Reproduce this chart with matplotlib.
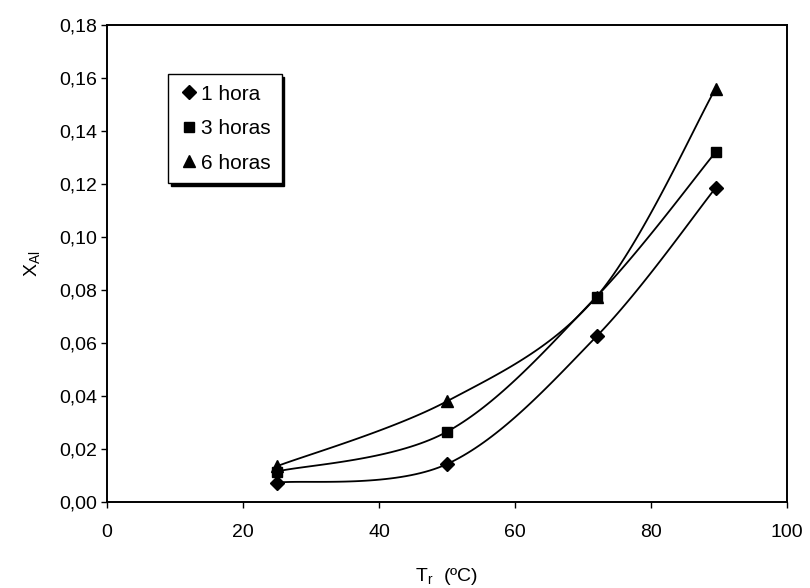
import numpy as np
import matplotlib
matplotlib.use("Agg")
import matplotlib.pyplot as plt
from matplotlib.lines import Line2D
from matplotlib.ticker import FuncFormatter

plt.rcParams['font.family'] = ['Liberation Sans', 'DejaVu Sans']

temps = [25, 50, 72, 89.5]
x_1h = [0.0073, 0.0143, 0.0625, 0.1185]
x_3h = [0.0115, 0.0265, 0.0775, 0.1320]
x_6h = [0.0135, 0.0380, 0.0775, 0.1560]
labels = ['1 hora', '3 horas', '6 horas']
markers = ['D', 's', '^']
msizes = [7, 7, 9]


def catmull_rom(x, y, n=40):
    x = np.asarray(x, float); y = np.asarray(y, float)
    px = np.concatenate([[x[0]], x, [x[-1]]])
    py = np.concatenate([[y[0]], y, [y[-1]]])
    xs, ys = [], []
    t = np.linspace(0, 1, n)
    for i in range(1, len(px) - 2):
        p0, p1, p2, p3 = (np.array([px[j], py[j]]) for j in (i - 1, i, i + 1, i + 2))
        b1 = p1 + (p2 - p0) / 6
        b2 = p2 - (p3 - p1) / 6
        pts = ((1 - t) ** 3)[:, None] * p1 + (3 * (1 - t) ** 2 * t)[:, None] * b1 + \
              (3 * (1 - t) * t ** 2)[:, None] * b2 + (t ** 3)[:, None] * p2
        xs.append(pts[:, 0]); ys.append(pts[:, 1])
    return np.concatenate(xs), np.concatenate(ys)


fig = plt.figure(figsize=(8.1, 5.88), dpi=100)
ax = fig.add_axes([0.132, 0.1463, 0.8396, 0.8112])

handles = []
for ys, lab, mk, ms in zip([x_1h, x_3h, x_6h], labels, markers, msizes):
    sx, sy = catmull_rom(temps, ys)
    ax.plot(sx, sy, color='black', lw=1.3)
    ax.plot(temps, ys, linestyle='none', marker=mk, ms=ms, color='black')
    handles.append(Line2D([], [], linestyle='none', marker=mk, ms=ms, color='black', label=lab))

ax.set_xlim(0, 100)
ax.set_ylim(0, 0.18)
ax.set_xticks(np.arange(0, 101, 20))
ax.set_yticks(np.arange(0, 0.181, 0.02))
ax.yaxis.set_major_formatter(FuncFormatter(lambda v, p: f"{v:.2f}".replace('.', ',')))
ax.tick_params(direction='out', length=4, width=1, labelsize=14, colors='black')
ax.tick_params(axis='x', pad=12)
ax.tick_params(axis='y', pad=3)
for s in ax.spines.values():
    s.set_linewidth(1.4)
    s.set_color('black')

ax.set_xlabel(r'T$_\mathregular{r}$  (ºC)', fontsize=14, labelpad=18)
ax.set_ylabel(r'X$_\mathregular{Al}$', fontsize=14, labelpad=12)

leg = ax.legend(handles=handles, loc='upper left', bbox_to_anchor=(0.09, 0.897),
                borderaxespad=0, frameon=True, fancybox=False, fontsize=15,
                handletextpad=0.1, handlelength=1.0, labelspacing=0.75,
                borderpad=0.5, shadow={'color': 'black', 'alpha': 1.0})
leg.get_frame().set_edgecolor('black')
leg.get_frame().set_linewidth(1.0)

fig.savefig('out.png', dpi=100)
